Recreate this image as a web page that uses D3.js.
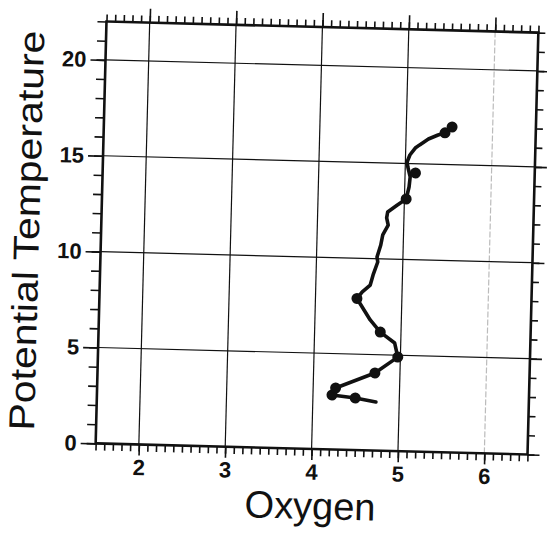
<!DOCTYPE html>
<html>
<head>
<meta charset="utf-8">
<script src="https://cdn.jsdelivr.net/npm/d3@7"></script>
<style>
  body { margin: 0; background: #fff; }
  svg { display: block; }
  .axis path.domain { display: none; }
  .axis line { stroke: #111; stroke-width: 1.6; }
  .axis text { font-family: "Liberation Sans", Arial, sans-serif; font-size: 22px; font-weight: bold; fill: #111; }
</style>
</head>
<body>
<div id="chart"></div>
<script>
// profile trace (oxygen vs potential temperature)
let lineOxygen = [4.73, 4.49, 4.22, 4.26, 4.71, 4.97, 4.93, 4.76, 4.64, 4.48, 4.54, 4.63, 4.66, 4.71,
                  4.70, 4.74, 4.76, 4.82, 4.80, 4.81, 4.92, 5.02, 5.05, 5.06, 5.03, 5.02, 5.05, 5.11,
                  5.16, 5.26, 5.37, 5.45, 5.53];
let lineTheta  = [2.53, 2.71, 2.84, 3.21, 4.04, 4.90, 5.63, 6.18, 6.80, 7.90, 8.25, 8.62, 9.15, 9.83,
                  10.09, 10.72, 11.25, 11.77, 12.14, 12.45, 12.83, 13.15, 13.78, 14.31, 14.82, 15.08, 15.45, 15.82,
                  15.99, 16.31, 16.53, 16.65, 16.97];

// bottle samples (the dots)
let dotOxygen = [4.49, 4.22, 4.26, 4.71, 4.97, 4.76, 4.48, 5.02, 5.12, 5.45, 5.53];
let dotTheta  = [2.71, 2.84, 3.21, 4.04, 4.90, 6.18, 7.90, 13.15, 14.52, 16.65, 16.97];

// axes
let xMajor = [2, 3, 4, 5, 6];
let yMajor = [0, 5, 10, 15, 20];

let drawChart = function () {
    let width = 547;
    let height = 533;
    let margin = {left: 101, top: 27};
    let plotW = 432;
    let plotH = 422;

    let svg = d3.select('#chart')
        .append('svg')
        .attr('width', width)
        .attr('height', height);

    //the scanned figure is tilted a little clockwise
    let cx = margin.left + plotW / 2;
    let cy = margin.top + plotH / 2;
    let root = svg.append('g')
        .attr('transform', `rotate(1.47, ${cx}, ${cy})`);

    let x = d3.scaleLinear().domain([1.5, 6.5]).range([0, plotW]);
    let y = d3.scaleLinear().domain([0, 22]).range([plotH, 0]);

    let g = root.append('g')
        .attr('transform', `translate(${margin.left},${margin.top})`);

    //grid
    g.selectAll('.vgrid')
        .data(xMajor)
        .join('line')
        .attr('x1', d => x(d)).attr('x2', d => x(d))
        .attr('y1', 0).attr('y2', plotH)
        .attr('stroke', d => d === 6 ? '#bbb' : '#111')
        .attr('stroke-dasharray', d => d === 6 ? '6,2' : null)
        .attr('stroke-width', 1.2);

    g.selectAll('.hgrid')
        .data(yMajor.filter(d => d > 0))
        .join('line')
        .attr('x1', 0).attr('x2', plotW)
        .attr('y1', d => y(d)).attr('y2', d => y(d))
        .attr('stroke', '#111')
        .attr('stroke-width', 1.2);

    //minor ticks
    let xMinor = d3.range(15, 66).map(d => d / 10);
    let yMinor = d3.range(0, 23);

    g.append('g').attr('class', 'axis')
        .attr('transform', `translate(0,${plotH})`)
        .call(d3.axisBottom(x).tickValues(xMinor).tickSize(7).tickFormat(''));
    g.append('g').attr('class', 'axis')
        .attr('transform', `translate(0,${plotH})`)
        .call(d3.axisBottom(x).tickValues(xMajor).tickSize(11).tickPadding(4).tickFormat(d3.format('d')));

    g.append('g').attr('class', 'axis')
        .call(d3.axisTop(x).tickValues(xMinor).tickSize(7).tickFormat(''));
    g.append('g').attr('class', 'axis')
        .call(d3.axisTop(x).tickValues(xMajor).tickSize(14).tickFormat(''));

    g.append('g').attr('class', 'axis')
        .call(d3.axisLeft(y).tickValues(yMinor).tickSize(9).tickFormat(''));
    g.append('g').attr('class', 'axis')
        .call(d3.axisLeft(y).tickValues(yMajor).tickSize(15).tickPadding(4).tickFormat(d3.format('d')));

    g.append('g').attr('class', 'axis')
        .attr('transform', `translate(${plotW},0)`)
        .call(d3.axisRight(y).tickValues(yMinor).tickSize(7).tickFormat(''));
    g.append('g').attr('class', 'axis')
        .attr('transform', `translate(${plotW},0)`)
        .call(d3.axisRight(y).tickValues(yMajor).tickSize(12).tickFormat(''));

    //frame
    g.append('rect')
        .attr('width', plotW)
        .attr('height', plotH)
        .attr('fill', 'none')
        .attr('stroke', '#111')
        .attr('stroke-width', 2.6);

    //profile line
    let pts = lineOxygen.map((o, i) => [o, lineTheta[i]]);
    g.append('path')
        .datum(pts)
        .attr('fill', 'none')
        .attr('stroke', '#111')
        .attr('stroke-width', 3.6)
        .attr('stroke-linejoin', 'round')
        .attr('stroke-linecap', 'round')
        .attr('d', d3.line().x(d => x(d[0])).y(d => y(d[1])));

    //samples
    let dots = dotOxygen.map((o, i) => [o, dotTheta[i]]);
    g.selectAll('.dot')
        .data(dots)
        .join('circle')
        .attr('cx', d => x(d[0]))
        .attr('cy', d => y(d[1]))
        .attr('r', 5.5)
        .attr('fill', '#111');

    //axis titles
    g.append('text')
        .attr('x', plotW / 2)
        .attr('y', plotH + 70)
        .attr('text-anchor', 'middle')
        .attr('font-family', 'Liberation Sans, Arial, sans-serif')
        .attr('font-size', 38)
        .attr('fill', '#111')
        .text('Oxygen');

    g.append('text')
        .attr('transform', `translate(-62,${plotH / 2}) rotate(-90)`)
        .attr('text-anchor', 'middle')
        .attr('font-family', 'Liberation Sans, Arial, sans-serif')
        .attr('font-size', 36)
        .attr('textLength', 400)
        .attr('lengthAdjust', 'spacingAndGlyphs')
        .attr('fill', '#111')
        .text('Potential Temperature');
};

drawChart();
</script>
</body>
</html>
